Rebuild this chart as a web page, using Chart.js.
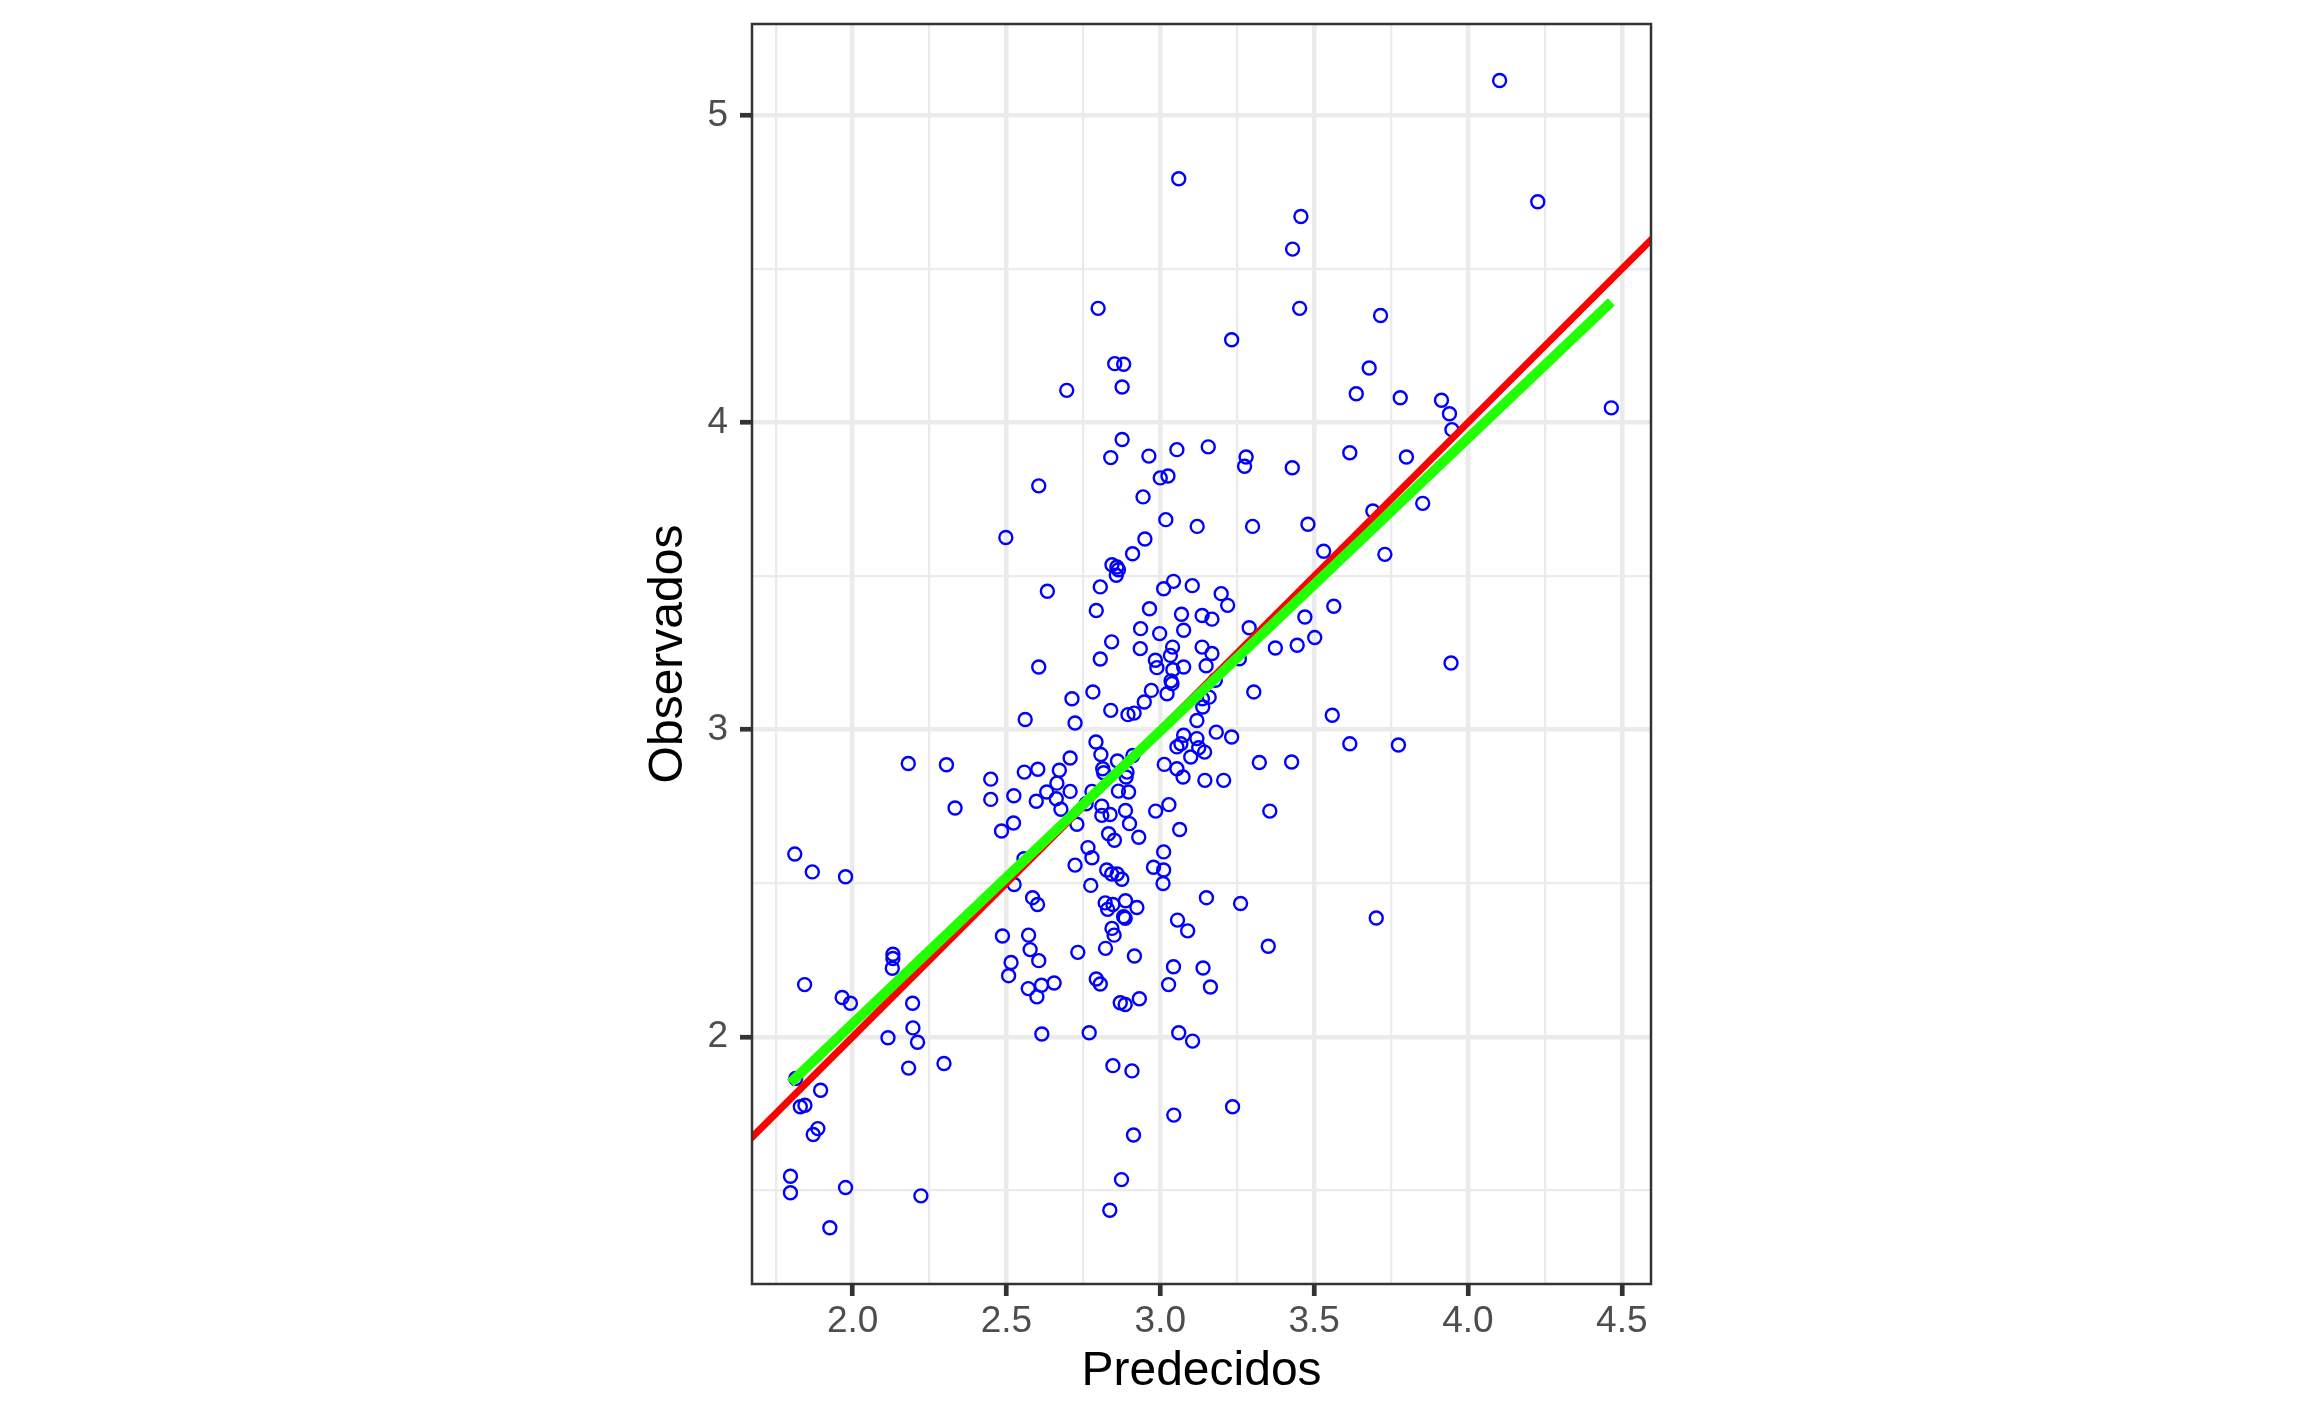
<!DOCTYPE html>
<html><head><meta charset="utf-8">
<script src="https://cdn.jsdelivr.net/npm/chart.js@4.4.1/dist/chart.umd.min.js"></script>
<style>html,body{margin:0;padding:0;background:#fff;} canvas{display:block;}</style>
</head><body>
<canvas id="c" width="2304" height="1423" style="width:2304px;height:1423px"></canvas>
<script>
const predicted = [
3.060,3.457,3.430,2.798,3.453,3.232,2.852,2.881,2.696,2.876,3.637,2.876,4.103,4.227,3.716,3.679,3.780,3.914,3.940,3.948,
4.466,3.616,3.800,3.691,3.853,3.730,3.945,3.616,3.774,3.702,2.605,2.498,2.633,2.605,2.561,2.181,2.305,2.449,2.333,2.449,
2.524,2.558,2.602,2.597,2.631,2.523,2.484,1.812,2.557,1.869,1.977,2.525,2.585,2.601,2.487,2.572,2.577,2.515,2.605,2.507,
2.571,2.614,2.599,2.655,2.615,2.131,2.131,2.129,1.844,1.966,1.993,2.195,2.196,2.211,2.115,2.182,2.297,1.815,1.896,1.830,
1.845,1.872,1.887,1.798,1.798,1.977,2.222,1.926,2.723,2.826,2.842,2.860,2.875,2.978,3.011,3.009,2.774,3.150,3.261,2.821,
2.846,2.829,2.887,2.924,2.881,2.886,2.843,2.850,3.056,3.089,3.351,2.732,2.822,2.916,3.043,3.139,3.027,3.163,2.792,2.805,
2.870,2.886,2.932,2.769,3.060,3.105,2.846,2.908,3.235,3.044,2.913,2.874,2.836,
2.839,2.963,3.054,3.156,3.279,3.274,3.429,3.000,3.025,2.944,3.018,3.120,3.300,3.480,2.950,2.910,2.843,2.859,2.864,2.857,
3.531,2.805,3.011,3.043,3.104,3.198,3.219,2.792,2.965,3.069,3.136,3.168,3.564,3.470,3.289,2.936,2.998,3.076,2.842,2.935,
3.040,3.033,3.136,3.168,3.374,3.445,3.502,2.805,2.984,2.989,3.041,3.076,3.149,3.257,3.035,3.038,3.022,2.971,3.179,2.781,
2.713,2.948,3.304,3.137,3.159,3.138,2.839,2.895,2.915,3.119,2.723,3.559,3.182,3.232,3.076,3.054,3.067,3.119,3.125,3.144,
3.099,2.791,2.807,2.707,2.911,2.861,3.322,3.427,3.013,3.054,3.074,2.672,2.813,2.816,2.892,2.889,2.664,2.707,2.662,2.677,
2.778,2.864,2.897,3.145,3.206,3.356,2.985,3.028,2.810,2.837,2.810,2.887,2.900,2.729,2.759,3.063,2.832,2.851,2.930,2.765,
2.778,3.011
];
const observed = [
4.794,4.671,4.565,4.372,4.372,4.270,4.192,4.190,4.105,4.116,4.094,3.945,5.114,4.719,4.349,4.178,4.081,4.073,4.029,3.977,
4.048,3.902,3.888,3.712,3.737,3.571,3.217,2.954,2.950,2.387,3.794,3.626,3.451,3.204,3.033,2.890,2.886,2.839,2.745,2.773,
2.785,2.862,2.871,2.767,2.797,2.696,2.670,2.595,2.580,2.537,2.521,2.496,2.453,2.431,2.328,2.331,2.284,2.242,2.248,2.199,
2.157,2.168,2.130,2.175,2.009,2.269,2.255,2.223,2.170,2.128,2.109,2.109,2.029,1.982,1.997,1.898,1.913,1.864,1.826,1.772,
1.777,1.682,1.701,1.546,1.492,1.509,1.482,1.378,2.559,2.543,2.530,2.530,2.513,2.552,2.543,2.499,2.493,2.453,2.434,2.436,
2.431,2.415,2.443,2.421,2.391,2.386,2.353,2.331,2.380,2.345,2.295,2.275,2.288,2.263,2.228,2.224,2.170,2.162,2.188,2.172,
2.111,2.105,2.124,2.013,2.013,1.986,1.906,1.889,1.772,1.745,1.680,1.535,1.435,
3.886,3.891,3.912,3.921,3.888,3.858,3.853,3.820,3.826,3.758,3.684,3.662,3.662,3.669,3.621,3.573,3.537,3.530,3.521,3.503,
3.581,3.465,3.459,3.483,3.469,3.443,3.405,3.388,3.394,3.376,3.372,3.360,3.402,3.367,3.332,3.329,3.313,3.324,3.286,3.264,
3.269,3.242,3.269,3.248,3.266,3.275,3.300,3.230,3.226,3.202,3.195,3.204,3.208,3.231,3.159,3.150,3.117,3.128,3.161,3.123,
3.101,3.090,3.123,3.101,3.106,3.074,3.063,3.049,3.054,3.030,3.022,3.047,2.992,2.976,2.982,2.944,2.954,2.971,2.941,2.927,
2.911,2.960,2.919,2.908,2.916,2.898,2.893,2.895,2.887,2.873,2.846,2.868,2.873,2.860,2.862,2.846,2.826,2.799,2.775,2.741,
2.799,2.800,2.797,2.835,2.835,2.735,2.735,2.756,2.751,2.724,2.721,2.737,2.694,2.692,2.759,2.675,2.661,2.640,2.650,2.616,
2.583,2.602
];
const identityX = [1.5, 5.0];
const identityY = [1.5, 5.0];
const fitX = [1.798, 4.466];
const fitY = [1.850, 4.393];
const xLimits = [1.673, 4.595];
const yLimits = [1.195, 5.298];
const xTickValues = [2.0, 2.5, 3.0, 3.5, 4.0, 4.5];
const xTickLabels = ['2.0', '2.5', '3.0', '3.5', '4.0', '4.5'];
const xMinorValues = [1.75, 2.25, 2.75, 3.25, 3.75, 4.25];
const yTickValues = [2, 3, 4, 5];
const yTickLabels = ['2', '3', '4', '5'];
const yMinorValues = [1.5, 2.5, 3.5, 4.5];
const xTitle = 'Predecidos';
const yTitle = 'Observados';

const pts = predicted.map((x, i) => ({x: x, y: observed[i]}));
const refLine = identityX.map((x, i) => ({x: x, y: identityY[i]}));
const fitLine = fitX.map((x, i) => ({x: x, y: fitY[i]}));

Chart.defaults.font.family = '"Liberation Sans", Arial, Helvetica, sans-serif';

const panelBorder = {
  id: 'panelBorder',
  afterDraw(chart) {
    const {ctx, chartArea: a} = chart;
    ctx.save();
    ctx.strokeStyle = '#333333';
    ctx.lineWidth = 2.5;
    ctx.strokeRect(a.left, a.top, a.right - a.left, a.bottom - a.top);
    ctx.restore();
  }
};

function makeScale(major, labels, minor, limits, isX) {
  const isMajor = v => major.indexOf(v) !== -1;
  return {
    type: 'linear',
    min: limits[0],
    max: limits[1],
    afterBuildTicks: (scale) => {
      scale.ticks = major.concat(minor).sort((a, b) => a - b).map(v => ({value: v}));
    },
    afterFit: (scale) => {
      if (isX) { scale.height = 117; scale.paddingLeft = 0; scale.paddingRight = 0; }
      else { scale.width = 112; scale.paddingTop = 0; scale.paddingBottom = 0; }
    },
    border: {display: false},
    grid: {
      color: '#EBEBEB',
      lineWidth: (c) => (c.tick && isMajor(c.tick.value)) ? 4.5 : 2.3,
      drawTicks: true,
      tickLength: 12,
      tickWidth: 4.7,
      tickColor: (c) => (c.tick && isMajor(c.tick.value)) ? '#333333' : 'rgba(0,0,0,0)'
    },
    ticks: {
      autoSkip: false,
      maxRotation: 0,
      minRotation: 0,
      padding: isX ? 4 : 12,
      color: '#4D4D4D',
      font: {size: 37, lineHeight: 1.2},
      callback: (v) => { const i = major.indexOf(v); return i === -1 ? '' : labels[i]; }
    },
    title: {
      display: true,
      text: isX ? xTitle : yTitle,
      color: '#000000',
      padding: 0,
      font: {size: 48, lineHeight: 1.2}
    }
  };
}

new Chart(document.getElementById('c'), {
  type: 'scatter',
  data: {
    datasets: [
      {
        label: 'fit', data: fitLine, showLine: true, order: 0,
        borderColor: '#22FF00', borderWidth: 10, pointRadius: 0, fill: false
      },
      {
        label: 'identity', data: refLine, showLine: true, order: 1,
        borderColor: '#FF0000', borderWidth: 7, pointRadius: 0, fill: false
      },
      {
        label: 'obs', data: pts, order: 2,
        pointStyle: 'circle', pointRadius: 6.5, pointHoverRadius: 6.5,
        borderColor: '#0000FF', backgroundColor: 'rgba(0,0,0,0)', borderWidth: 2.4
      }
    ]
  },
  options: {
    responsive: false,
    animation: false,
    devicePixelRatio: 1,
    layout: {padding: {left: 640, right: 653, top: 24, bottom: 22}},
    plugins: {legend: {display: false}, tooltip: {enabled: false}},
    scales: {
      x: makeScale(xTickValues, xTickLabels, xMinorValues, xLimits, true),
      y: makeScale(yTickValues, yTickLabels, yMinorValues, yLimits, false)
    }
  },
  plugins: [panelBorder]
});
</script>
</body></html>
